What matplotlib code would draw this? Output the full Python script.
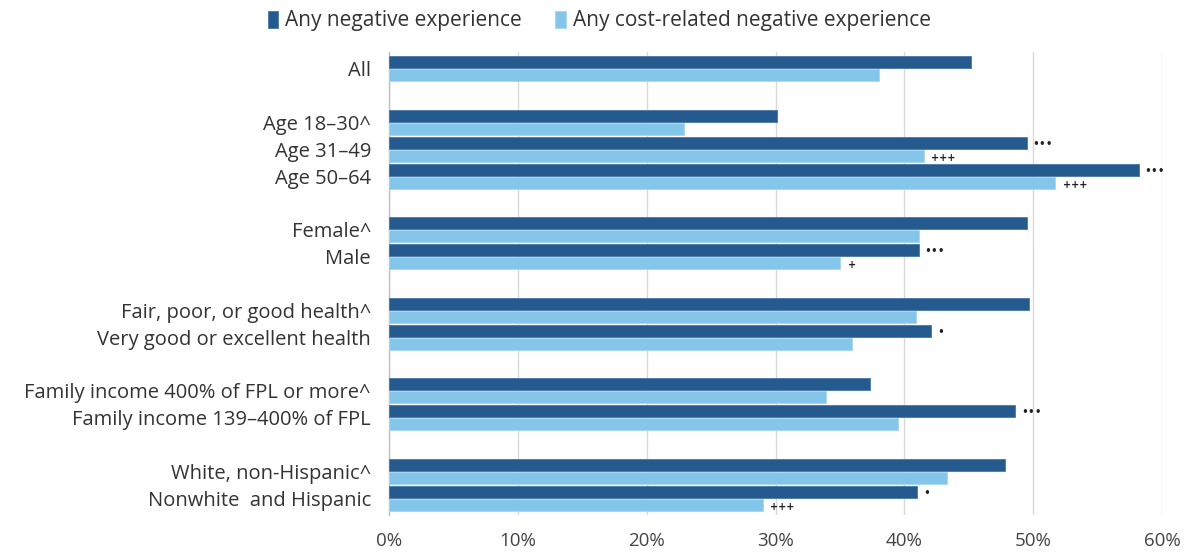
import matplotlib
matplotlib.use("Agg")
import matplotlib.pyplot as plt
from matplotlib.ticker import FuncFormatter

plt.rcParams['font.family'] = ['Open Sans', 'DejaVu Sans']

# rows in display order; None marks a blank spacer row between groups
labels = ['All', None,
          'Age 18\u201330^', 'Age 31\u201349', 'Age 50\u201364', None,
          'Female^', 'Male', None,
          'Fair, poor, or good health^', 'Very good or excellent health', None,
          'Family income 400% of FPL or more^', 'Family income 139\u2013400% of FPL', None,
          'White, non-Hispanic^', 'Nonwhite  and Hispanic']
any_neg = [45.2, None, 30.1, 49.5, 58.2, None, 49.5, 41.1, None,
           49.7, 42.1, None, 37.3, 48.6, None, 47.8, 41.0]
cost_neg = [38.0, None, 22.9, 41.5, 51.7, None, 41.1, 35.0, None,
            40.9, 35.9, None, 33.9, 39.5, None, 43.3, 29.0]
sig_any = ['', '', '', '***', '***', '', '', '***', '', '', '*', '', '', '***', '', '', '*']
sig_cost = ['', '', '', '+++', '+++', '', '', '+', '', '', '', '', '', '', '', '', '+++']

dark = '#255a8e'
light = '#84c5ea'

fig = plt.figure(figsize=(11.87, 5.52), dpi=100)
ax = fig.add_axes([0.3277, 0.067, 0.979 - 0.3277, 0.906 - 0.067])

rows = [i for i, l in enumerate(labels) if l is not None]
off = 0.24
h = 0.45
ax.barh([i - off for i in rows], [any_neg[i] for i in rows], height=h,
        color=dark, edgecolor='#4a78a6', linewidth=0.6, label='Any negative experience', zorder=3)
ax.barh([i + off for i in rows], [cost_neg[i] for i in rows], height=h,
        color=light, edgecolor='#a8d6f0', linewidth=0.6,
        label='Any cost-related negative experience', zorder=3)

for i in rows:
    if sig_any[i]:
        ax.text(any_neg[i] + 0.45, i - off + 0.05, sig_any[i].replace('*', '\u2022'),
                va='center', ha='left', fontsize=8.5,
                family='DejaVu Sans', color='#222222')
    if sig_cost[i]:
        ax.text(cost_neg[i] + 0.6, i + off + 0.08, sig_cost[i],
                va='center', ha='left', fontsize=7, fontweight='bold',
                family='DejaVu Sans', color='#222222')

ax.set_yticks(rows)
ax.set_yticklabels([labels[i] for i in rows], fontsize=14.5, color='#333333')
ax.set_ylim(16.63, -0.63)
ax.set_xlim(0, 60)
ax.set_xticks(range(0, 61, 10))
ax.xaxis.set_major_formatter(FuncFormatter(lambda v, p: f'{v:.0f}%'))
ax.tick_params(axis='x', length=0, pad=12, labelsize=13.5, labelcolor='#444444')
ax.tick_params(axis='y', length=0, pad=13)
ax.grid(axis='x', color='#d9d9d9', linewidth=1, zorder=0)
for s in ['top', 'right', 'bottom']:
    ax.spines[s].set_visible(False)
ax.spines['left'].set_color('#bfbfbf')
ax.spines['left'].set_linewidth(1)

fig.legend(loc='upper center', bbox_to_anchor=(0.505, 1.015), ncol=2, frameon=False,
           fontsize=15, handlelength=0.5, handleheight=0.85, handletextpad=0.35,
           columnspacing=1.6, labelcolor='#333333')

fig.savefig('out.png', dpi=100, facecolor='white')
